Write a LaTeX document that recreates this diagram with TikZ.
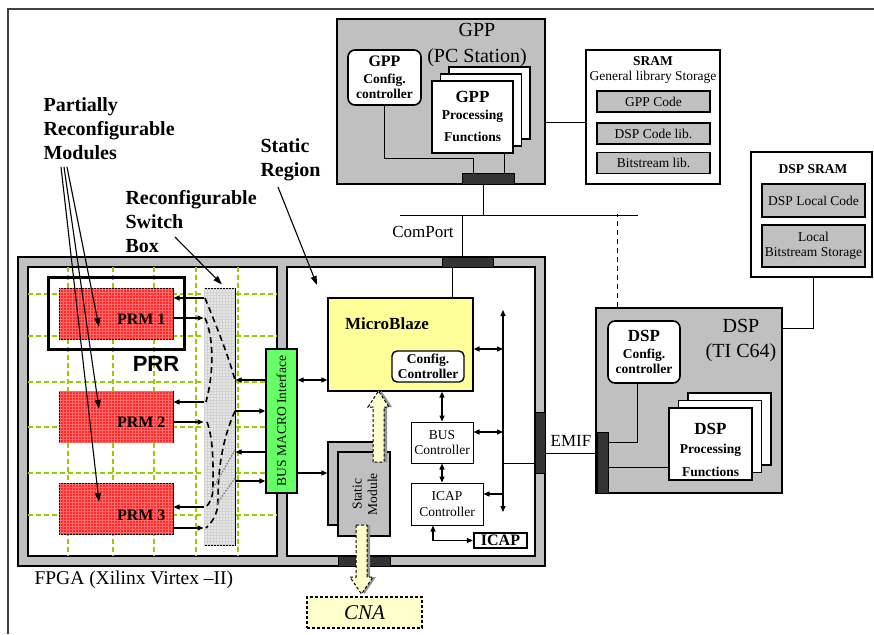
\documentclass[tikz,border=0pt]{standalone}
\usepackage{fontspec}
\setmainfont{Liberation Serif}
\newfontfamily\prrfont{Liberation Sans}
\usetikzlibrary{arrows.meta,patterns,calc}

\definecolor{boxgray}{HTML}{C0C0C0}
\definecolor{portgray}{HTML}{333333}
\definecolor{prmred}{HTML}{FF2A2A}
\definecolor{gridgreen}{HTML}{99CC00}
\definecolor{bmgreen}{HTML}{66FF66}
\definecolor{mbyellow}{HTML}{FFFF99}
\definecolor{cnayellow}{HTML}{FFFFCC}
\definecolor{swgray}{HTML}{E6E6E6}

\tikzset{
  fbig/.style={font=\fontsize{20}{24}\selectfont},
  fbigb/.style={font=\fontsize{20}{24}\selectfont\bfseries},
  fmid/.style={font=\fontsize{17}{20}\selectfont},
  fsmall/.style={font=\fontsize{13.5}{15.5}\selectfont},
  fsmallb/.style={font=\fontsize{13.5}{15.5}\selectfont\bfseries},
  boxline/.style={draw, line width=1.2pt, inner sep=0pt},
  graybox/.style={boxline, fill=boxgray},
  libbox/.style={graybox, fsmall, minimum width=113pt, minimum height=21pt},
  port/.style={draw, fill=portgray, line width=0.8pt, inner sep=0pt},
  ctrl/.style={boxline, fill=white, rounded corners=7pt, line width=1.6pt},
  stackbox/.style={boxline, fill=white, minimum width=81pt, minimum height=72pt},
  prm/.style={draw, line width=1pt, fill=prmred,
    postaction={pattern=grid, pattern color=white!30!prmred},
    minimum width=114pt, minimum height=51pt, inner sep=0pt},
  arr/.style={line width=1.3pt, -{Triangle[length=6pt,width=5pt]}},
  dbl/.style={line width=1.3pt, {Triangle[length=6pt,width=5pt]}-{Triangle[length=6pt,width=5pt]}},
  note/.style={line width=1.1pt, -{Triangle[length=9pt,width=6pt]}},
  wire/.style={line width=1pt},
  gridline/.style={gridgreen, line width=1.2pt, dash pattern=on 5pt off 3pt},
  swline/.style={line width=1.6pt, dash pattern=on 6pt off 4pt},
  swdot/.style={gray, line width=1.4pt, dash pattern=on 1.5pt off 1.5pt},
  fat/.style={draw, fill=cnayellow, line width=1pt, dash pattern=on 3pt off 2pt},
}

\begin{document}
\begin{tikzpicture}[x=1pt,y=-1pt]
\fill[white] (0,0) rectangle (874,634);
\useasboundingbox (0,0) rectangle (874,634);
\draw[line width=1.5pt, black!75] (8,634) -- (8,9) -- (874,9);

% GPP station
\node[graybox, minimum width=208pt, minimum height=165pt] (gpp) at (441,101.5) {};
\node[ctrl, minimum width=73pt, minimum height=55pt, fsmallb, align=center] (gppcfg) at (384.5,77.5)
  {{\fontsize{16}{18}\selectfont GPP}\\[1pt]Config.\\controller};
\node[stackbox] (gppback) at (489.5,103) {};
\node[stackbox] (gppmid) at (481,110) {};
\node[stackbox] (gppproc) at (472.5,117) {};
\node[fsmallb, align=center] (gppproctxt) at (472.5,116)
  {{\fontsize{17}{19}\selectfont GPP}\\[2pt]Processing\\[6pt]Functions};
\node[fbig, align=center] (gpptitle) at (477,45) {GPP\\[2pt](PC Station)};
\node[port, minimum width=52pt, minimum height=11pt] (gppport) at (488,178.5) {};
\draw[wire] (gppcfg.south) |- ($(gppport.north)+(-15,-14)$) -- ($(gppport.north)+(-15,0)$);
\draw[wire] ($(gppproc.south)+(31.5,0)$) -- ++(0,20);

% SRAM
\node[boxline, fill=white, minimum width=134pt, minimum height=134pt] (sram) at (653,117) {};
\node[fsmall, align=center] (sramtitle) at (653,70) {\textbf{SRAM}\\General library Storage};
\node[libbox] (gppcode) at (653.5,101.5) {GPP Code};
\node[libbox] (dspcode) at (653.5,133.5) {DSP Code lib.};
\node[libbox] (bitlib) at (653.5,163) {Bitstream lib.};
\draw[wire] ($(gpp.east)+(0,20.5)$) -- ($(sram.west)+(0,5)$);

% DSP SRAM
\node[boxline, fill=white, minimum width=121pt, minimum height=125pt] (dspsram) at (811.5,214.5) {};
\node[fsmallb] (dspsramtitle) at (813,169) {DSP SRAM};
\node[libbox, line width=1.8pt, minimum width=103pt, minimum height=33pt] (dsplocal) at (813.5,200.5) {DSP Local Code};
\node[libbox, line width=1.8pt, minimum width=103pt, minimum height=42pt, align=center] (localbit) at (813.5,246) {Local\\Bitstream Storage};

% DSP
\node[graybox, minimum width=186pt, minimum height=185pt] (dsp) at (689,400.5) {};
\node[fbig, align=center] (dsptitle) at (741,341) {DSP\\[1pt](TI C64)};
\node[ctrl, minimum width=72pt, minimum height=62pt, fsmallb, align=center] (dspcfg) at (644,352)
  {{\fontsize{17}{19}\selectfont DSP}\\[1pt]Config.\\controller};
\node[stackbox, minimum width=83pt] (dspback) at (729.5,429) {};
\node[stackbox, minimum width=83pt] (dspmid) at (720,436.5) {};
\node[stackbox, minimum width=83pt] (dspproc) at (710.5,444) {};
\node[fsmallb, align=center] (dspproctxt) at (710.5,450)
  {{\fontsize{17}{19}\selectfont DSP}\\[3pt]Processing\\[8pt]Functions};
\node[port, minimum width=11pt, minimum height=61pt] (emifport) at (602.5,462.5) {};
\draw[wire] ($(dspcfg.south)+(-7,0)$) |- ($(emifport.east)+(0,-20.5)$);
\draw[wire] ($(emifport.east)+(0,4.5)$) -- ++(61,0);
\draw[wire] ($(dspsram.south)+(1.5,0)$) |- ($(dsp.east)+(0,-72.5)$);

% ComPort bus
\coordinate (busL) at (400,215);
\coordinate (busR) at (638,215);
\draw[wire] (busL) -- (busR);
\draw[wire] ($(gppport.south)+(-5,0)$) -- ++(0,31);
\draw[wire, dash pattern=on 5pt off 4pt] ($(dsp.north)+(-72,0)$) -- ++(0,-93);
\node[fmid] (comport) at (423,232) {ComPort};

% FPGA
\node[graybox, minimum width=527pt, minimum height=309pt] (fpga) at (281.5,411.5) {};
\node[boxline, fill=white, minimum width=249pt, minimum height=289pt] (prregion) at (152.5,411.5) {};
\node[boxline, fill=white, minimum width=248pt, minimum height=289pt] (stregion) at (411,411.5) {};
\node[port, minimum width=51pt, minimum height=10pt] (comportfp) at (467.5,262) {};
\node[port, minimum width=10pt, minimum height=61pt] (emiffp) at (540,442.5) {};
\node[port, minimum width=52pt, minimum height=10pt] (cnaport) at (364,561) {};
\draw[wire] ($(comportfp.north)+(-5.5,0)$) -- ++(0,-42);
\node[font=\fontsize{19.5}{22}\selectfont, anchor=west] (fpgalabel) at (31,580) {FPGA (Xilinx Virtex –II)};

% grid of the reconfigurable area
\foreach \gx in {68,113,154,196,238}
  \draw[gridline] (\gx,267) -- (\gx,556);
\foreach \gy in {294,336,382,427,473,515}
  \draw[gridline] (28,\gy) -- (277,\gy);

\node[draw, line width=3pt, minimum width=136pt, minimum height=72pt] (prr) at (116,313) {};
\node[font={\prrfont\fontsize{22}{24}\selectfont\bfseries}] (prrlabel) at (156,364) {PRR};
\foreach \i/\py in {1/313.5, 2/416.5, 3/509} {
  \node[prm] (prm\i) at (116,\py) {};
  \node[font=\fontsize{16}{18}\selectfont\bfseries, anchor=east] (prm\i txt) at (169,\py+6) {PRM \i};
}

% switch box
\node[boxline, line width=1pt, fill=swgray, postaction={pattern=grid, pattern color=gray!35},
  minimum width=31pt, minimum height=257pt] (swbox) at (219.5,416.5) {};
\draw[swline] (205,298) .. controls (218,330) and (228,355) .. (235,380);
\draw[swline] (205,318) .. controls (214,338) and (214,372) .. (206,402);
\draw[swline] (235,411) .. controls (222,440) and (218,470) .. (218,500) .. controls (218,515) and (212,522) .. (206,528);
\draw[swline] (207,422) .. controls (214,440) and (213,470) .. (213,487) .. controls (213,497) and (210,503) .. (206,507);
\draw[swdot] (235,450) -- (212,490);
\draw[swdot] (235,478) -- (216,505);
\foreach \i/\din/\dout in {1/-15.5/4.5, 2/-14.5/5.5, 3/-2/19} {
  \draw[arr] ($(swbox.west |- prm\i.east)+(0,\din)$) -- ($(prm\i.east)+(0,\din)$);
  \draw[arr] ($(prm\i.east)+(0,\dout)$) -- ($(swbox.west |- prm\i.east)+(0,\dout)$);
}

% bus macro
\node[boxline, fill=bmgreen, minimum width=31pt, minimum height=144pt] (bm) at (281.5,421) {};
\node[fsmall, rotate=90] (bmtxt) at (bm.center) {BUS MACRO Interface};
\draw[arr] ($(bm.west)+(0,-41)$) -- ($(swbox.east |- bm.west)+(0,-41)$);
\draw[arr] ($(swbox.east |- bm.west)+(0,-10)$) -- ($(bm.west)+(0,-10)$);
\draw[arr] ($(bm.west)+(0,31)$) -- ($(swbox.east |- bm.west)+(0,31)$);
\draw[arr] ($(swbox.east |- bm.west)+(0,60)$) -- ($(bm.west)+(0,60)$);

% static region
\node[boxline, fill=mbyellow, minimum width=145pt, minimum height=93pt] (mb) at (400.5,344.5) {};
\node[font=\fontsize{17}{20}\selectfont\bfseries] (mbtxt) at (387,324) {MicroBlaze};
\node[ctrl, line width=1.4pt, rounded corners=5pt, minimum width=72pt, minimum height=31pt, fsmallb, align=center] (mbcfg) at (428,366.5) {Config.\\Controller};
\draw[dbl] ($(bm.east)+(0,-41)$) -- ($(mb.west)+(0,35.5)$);
\draw[wire] ($(comportfp.south)+(-15.5,0)$) -- ($(mb.north)+(51.5,0)$);

\coordinate (vbusT) at (503,310);
\coordinate (vbusB) at (503,512);
\draw[dbl] (vbusT) -- (vbusB);
\draw[dbl] ($(mb.east)+(0,4.5)$) -- ($(mb.east -| vbusT)+(0,4.5)$);
\draw[wire] ($(emiffp.west)+(0,20.5)$) -- ($(emiffp.west -| vbusT)+(0,20.5)$);

\node[boxline, line width=1pt, fill=white, minimum width=62pt, minimum height=41pt, fsmall, align=center] (busc) at (442,442.5) {BUS\\Controller};
\node[boxline, line width=1pt, fill=white, minimum width=72pt, minimum height=42pt, fsmall, align=center] (icapc) at (447,504) {ICAP\\Controller};
\node[draw, line width=2.2pt, fill=white, minimum width=53pt, minimum height=15pt, inner sep=0pt,
  font=\fontsize{16}{18}\selectfont\bfseries] (icap) at (500.5,540.5) {ICAP};
\draw[dbl] (mb.south -| busc.north) -- (busc.north);
\draw[dbl] ($(busc.east)+(0,-10.5)$) -- ($(busc.east -| vbusT)+(0,-10.5)$);
\draw[dbl] (busc.south) -- (busc.south |- icapc.north);
\draw[arr] ($(icapc.east -| vbusT)+(0,-10)$) -- ($(icapc.east)+(0,-10)$);
\draw[dbl] ($(icapc.south)+(-14,0)$) |- (icap.west);

\node[graybox, minimum width=52pt, minimum height=83pt] (smback) at (354,483.5) {};
\node[graybox, minimum width=52pt, minimum height=84pt] (smfront) at (364,494) {};
\node[fsmall, rotate=90, align=center] (smtxt) at (365,494) {Static\\Module};
\draw[arr] ($(bm.east)+(0,52)$) -- ($(smback.west)+(0,-10.5)$);

% data arrows
\fill[gray!85] (376,462) -- (376,407) -- (371,407) -- (381.5,391) -- (392,407) -- (387,407) -- (387,462) -- cycle;
\path[fat] (373,462) -- (373,407) -- (368,407) -- (378.5,391) -- (389,407) -- (384,407) -- (384,462) -- cycle;
\fill[gray!85] (359,525) -- (359,577) -- (353,577) -- (364.5,594) -- (376,577) -- (370,577) -- (370,525) -- cycle;
\path[fat] (356,525) -- (356,577) -- (350,577) -- (361.5,594) -- (373,577) -- (367,577) -- (367,525) -- cycle;
\node[draw, dash pattern=on 3pt off 2pt, line width=1.1pt, fill=cnayellow, minimum width=115pt, minimum height=31pt,
  font=\fontsize{21}{24}\selectfont\itshape] (cna) at (364.5,612.5) {CNA};

% EMIF link
\draw[wire] ($(emiffp.east)+(0,10.5)$) -- ($(emifport.west)+(0,-9.5)$);
\node[fmid] (emiflabel) at (571,441) {EMIF};

% annotations
\node[fbigb, align=left, anchor=west] (pmlabel) at (40,129) {Partially\\Reconfigurable\\Modules};
\coordinate (pmfoot) at (64,167);
\draw[note] ($(pmfoot)+(-3,0)$) -- ($(prm3.center)+(-17,-7)$);
\draw[note] (pmfoot) -- ($(prm2.center)+(-17,-7.5)$);
\draw[note] ($(pmfoot)+(3,0)$) -- ($(prm1.center)+(-17,13.5)$);

\node[fbigb, align=left, anchor=west] (swlabel) at (122,222) {Reconfigurable\\Switch\\Box};
\coordinate (swfoot) at (175,237);
\draw[note] (swfoot) -- ($(swbox.north)+(2.5,-3)$);

\node[fbigb, align=left, anchor=west] (stlabel) at (257,160) {Static\\Region};
\coordinate (stfoot) at (278,187);
\draw[note] (stfoot) -- (317,285);
\end{tikzpicture}
\end{document}
